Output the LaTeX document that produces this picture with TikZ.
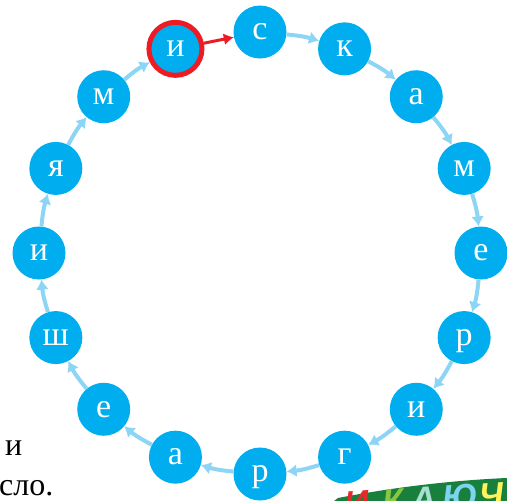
\documentclass[tikz,border=0pt]{standalone}
\usepackage{fontspec}
\setmainfont{Liberation Serif}
\newfontfamily\bannerfont{Liberation Sans}
\usetikzlibrary{arrows.meta}
\definecolor{nodeblue}{HTML}{00AEEF}
\definecolor{arrowblue}{HTML}{8DD5F5}
\definecolor{ringred}{HTML}{ED1C24}
\definecolor{bannergreen}{HTML}{17803C}
\definecolor{bred}{HTML}{E52A2A}
\definecolor{bgreen}{HTML}{8CC63F}
\definecolor{bteal}{HTML}{A9DED3}
\definecolor{bblue}{HTML}{7DD3F0}
\definecolor{byellow}{HTML}{FFF25A}
\begin{document}
\begin{tikzpicture}[x=1pt,y=-1pt,
  letter/.style={circle, fill=nodeblue, minimum size=53pt, inner sep=0pt, text=white,
    font=\fontsize{34}{34}\selectfont, text height=15.6pt, text depth=0pt},
  redring/.style={draw=ringred, line width=5pt},
  flow/.style={arrowblue, line width=4pt, -{Latex[length=10pt,width=13pt]}},
  redflow/.style={ringred, line width=3pt, -{Latex[length=10pt,width=12pt]}},
  bodytext/.style={anchor=base west, inner sep=0pt, font=\fontsize{32}{32}\selectfont},
  bannerletter/.style={anchor=base, inner sep=0pt, rotate=4,
    font=\bannerfont\bfseries\itshape\fontsize{34}{34}\selectfont},
]
\useasboundingbox (0,0) rectangle (507,501);

% banner
\begin{scope}
\clip (0,0) rectangle (507,501);
\fill[bannergreen] (334,501) -- (338,498) .. controls (400,486) and (460,480) .. (507,478) -- (507,501) -- cycle;
\node[bannerletter, text=bred]    (b1) at (358,515) {И};
\node[bannerletter, text=bgreen]  (b2) at (394,513) {К};
\node[bannerletter, text=bteal]   (b3) at (425,511) {А};
\node[bannerletter, text=bblue]   (b4) at (461,508) {Ю};
\node[bannerletter, text=byellow] (b5) at (493,507) {Ч};
\end{scope}

% body text at left
\node[bodytext] (t1) at (5,455) {и};
\node[bodytext] (t2) at (-1,495) {сло.};

% letter nodes on the ring
\foreach \k/\l in {0/с,1/к,2/а,3/м,4/е,5/р,6/и,7/г,8/р,9/а,10/е,11/ш,12/и,13/я,14/м}{
  \node[letter] (n\k) at ({260+221*cos(90-22.5*\k)},{253-221*sin(90-22.5*\k)}) {\l};
}
\node[letter, redring] (n15) at ({260+221*cos(112.5)},{253-221*sin(112.5)}) {и};

% connectors
\foreach \k [evaluate=\k as \nx using int(\k+1)] in {0,...,14}{
  \draw[flow] (n\k) to[bend left=6] (n\nx);
}
\draw[redflow] (n15) -- (n0);
\end{tikzpicture}
\end{document}
